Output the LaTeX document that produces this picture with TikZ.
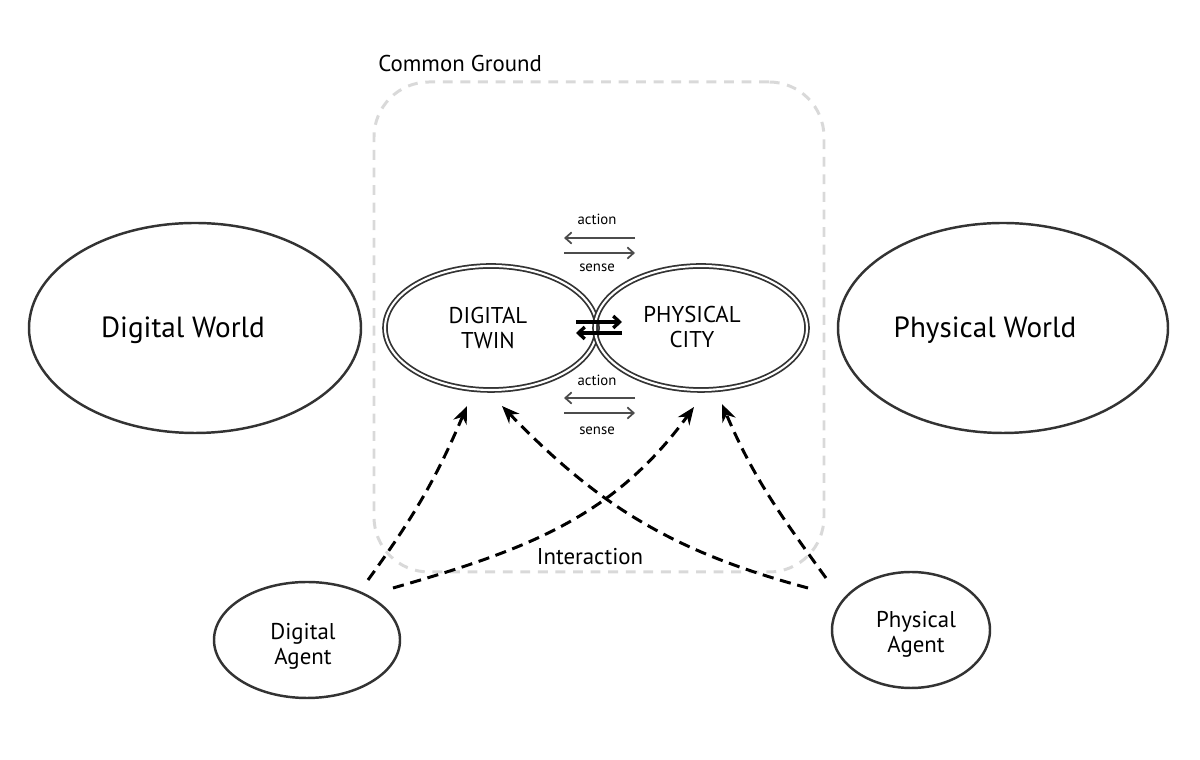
\documentclass[tikz,border=0pt]{standalone}
\usepackage{fontspec}
\setmainfont{PT Sans}
\usetikzlibrary{arrows.meta,shapes.geometric}

\begin{document}
\begin{tikzpicture}[
  world/.style={draw=black!80, line width=0.7pt, ellipse, inner sep=0pt},
  twin/.style={draw=black!80, ellipse, double, double distance=0.6pt, line width=0.5pt, inner sep=0pt, minimum width=2.12cm, minimum height=1.24cm},
  ground/.style={draw=black!15, line width=0.85pt, dash pattern=on 2.8pt off 2.2pt, rounded corners=0.55cm, minimum width=4.5cm, minimum height=4.9cm},
  link/.style={black, line width=0.85pt, dash pattern=on 3.2pt off 1.9pt, -{Stealth[length=5pt,width=4pt]}},
  flow/.style={black!70, line width=0.5pt, -{Straight Barb[length=1.8pt,width=3.2pt]}},
  swap/.style={black, line width=0.95pt, -{Straight Barb[length=1.8pt,width=3.4pt]}},
  big/.style={font=\fontsize{8.3}{9}\selectfont},
  mid/.style={font=\fontsize{6.5}{7.2}\selectfont, align=center},
  tiny/.style={font=\fontsize{4.2}{5}\selectfont}
  ]
  %%%%% FRAME %%%%%
  \useasboundingbox (0, 0) rectangle (12, -7.6);

  \node[ground] (cg) at (5.99, -3.27) {};
  \node[mid, anchor=west] (cgtxt) at (3.66, -0.64) {Common Ground};
  \node[mid] (inter) at (5.90, -5.57) {Interaction};

  %%%%% WORLDS %%%%%
  \node[world, minimum width=3.32cm, minimum height=2.1cm] (dworld) at (1.95, -3.28) {};
  \node[big] (dworldtxt) at (1.83, -3.30) {Digital World};
  \node[world, minimum width=3.30cm, minimum height=2.1cm] (pworld) at (10.03, -3.28) {};
  \node[big] (pworldtxt) at (9.85, -3.30) {Physical World};

  %%%%% TWIN & CITY %%%%%
  \node[twin] (dtwin) at (4.91, -3.28) {};
  \node[mid] (dtwintxt) at (4.88, -3.28) {DIGITAL\\TWIN};
  \node[twin] (pcity) at (7.01, -3.28) {};
  \node[mid] (pcitytxt) at (6.92, -3.27) {PHYSICAL\\CITY};

  %%%%% AGENTS %%%%%
  \node[world, minimum width=1.86cm, minimum height=1.16cm, mid] (dagent) at (3.07, -6.40) {};
  \node[mid] (dagenttxt) at (3.03, -6.46) {Digital\\Agent};
  \node[world, minimum width=1.58cm, minimum height=1.16cm, mid] (pagent) at (9.11, -6.30) {};
  \node[mid] (pagenttxt) at (9.16, -6.34) {Physical\\Agent};

  %%%%% ACTION / SENSE %%%%%
  \coordinate (ta) at (6.35, -2.38); \coordinate (tb) at (5.64, -2.38);
  \coordinate (tc) at (5.64, -2.53); \coordinate (td) at (6.35, -2.53);
  \draw[flow] (ta) -- (tb);
  \draw[flow] (tc) -- (td);
  \node[tiny] (tact) at (5.97, -2.19) {action};
  \node[tiny] (tsen) at (5.97, -2.68) {sense};

  \coordinate (ba) at (6.35, -3.98); \coordinate (bb) at (5.64, -3.98);
  \coordinate (bc) at (5.64, -4.13); \coordinate (bd) at (6.35, -4.13);
  \draw[flow] (ba) -- (bb);
  \draw[flow] (bc) -- (bd);
  \node[tiny] (bact) at (5.97, -3.80) {action};
  \node[tiny] (bsen) at (5.97, -4.31) {sense};

  \coordinate (ma) at (5.76, -3.22); \coordinate (mb) at (6.22, -3.22);
  \coordinate (mc) at (6.22, -3.33); \coordinate (md) at (5.76, -3.33);
  \draw[swap] (ma) -- (mb);
  \draw[swap] (mc) -- (md);

  %%%%% INTERACTION %%%%%
  \coordinate (da1) at (3.68, -5.80); \coordinate (da2) at (3.93, -5.88);
  \coordinate (pa1) at (8.08, -5.88); \coordinate (pa2) at (8.26, -5.78);
  \coordinate (dt1) at (4.67, -4.06); \coordinate (dt2) at (5.02, -4.06);
  \coordinate (pc1) at (6.94, -4.07); \coordinate (pc2) at (7.22, -4.04);

  \draw[link] (da1) to[out=54, in=247] (dt1);
  \draw[link] (da2) to[out=16, in=234] (pc1);
  \draw[link] (pa1) to[out=165, in=-46] (dt2);
  \draw[link] (pa2) to[out=126, in=-67] (pc2);
\end{tikzpicture}
\end{document}
